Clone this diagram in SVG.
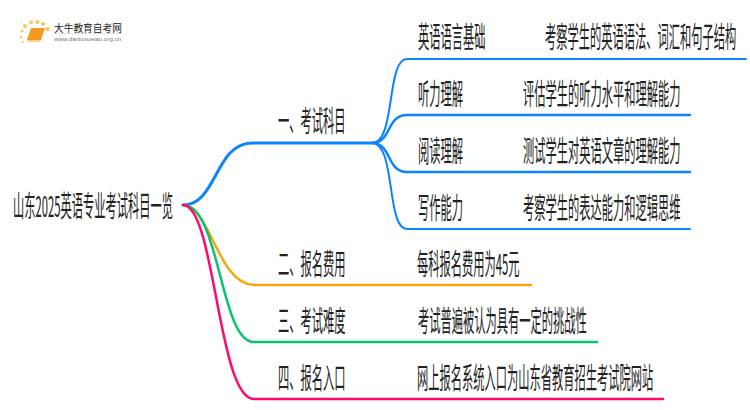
<svg xmlns="http://www.w3.org/2000/svg" width="750" height="410" viewBox="0 0 750 410">
<style>
text{font-family:"Noto Sans CJK SC","Liberation Sans",sans-serif;fill:#222;font-size:29px}
.c{fill:none;stroke-linecap:round}
.b{stroke:#0a84ff}
</style>
<rect width="750" height="410" fill="#fff"/>
<g id="logo">
<g fill="#fbc65a"><circle cx="25" cy="26" r="2"/><circle cx="31" cy="22.500" r="2"/><circle cx="37.500" cy="22" r="2"/><circle cx="43" cy="24" r="2"/><circle cx="47.500" cy="29" r="2.200"/><circle cx="22" cy="31" r="1.500"/><circle cx="21" cy="37" r="1.200"/><circle cx="23" cy="42" r="1"/></g>
<path d="M31 28H45L41 40H27Z" fill="#f39a1f"/>
<path d="M27 40H41L40 42H28Z" fill="#fbd08a"/>
<path d="M54 33.500H122" stroke="#ddd" stroke-width="0.800"/>
<text transform="translate(54 32) scale(.97 1)" style="font-size:10px">大牛教育自考网</text>
<text x="54" y="41" style="font-size:6.200px;fill:#777;font-family:'Liberation Sans',sans-serif">www.daniuxueiao.org.cn</text>
</g>
<g id="connectors">
<path class="c b" stroke-width="3" d="M183 205C217 205 215 143 252 143H372"/>
<path class="c b" stroke-width="2" d="M372 143C396 143 386 59 407 59H746"/>
<path class="c b" stroke-width="2.500" d="M372 143C392 143 386 115 407 115H690"/>
<path class="c b" stroke-width="2.500" d="M372 143C392 143 386 172 407 172H690"/>
<path class="c b" stroke-width="2" d="M372 143C396 143 386 229 407 229H690"/>
<path class="c" stroke="#f5a60a" stroke-width="2.500" d="M183 205C210 205 218 285 254 285H531"/>
<path class="c" stroke="#0cc26e" stroke-width="2.500" d="M183 205C220 205 220 342 254 342H597"/>
<path class="c" stroke="#ff0a6c" stroke-width="2.500" d="M183 205C215 205 218 399 254 399H663"/>
</g>
<g id="root"><text transform="translate(13 217) scale(.388 1)">山东2025英语专业考试科目一览</text></g>
<g id="n1"><text transform="translate(278 132) scale(.388 1)">一、考试科目</text></g>
<g id="n2"><text transform="translate(278 275) scale(.388 1)">二、报名费用</text></g>
<g id="n3"><text transform="translate(278 332) scale(.388 1)">三、考试难度</text></g>
<g id="n4"><text transform="translate(278 389) scale(.388 1)">四、报名入口</text></g>
<g id="a1"><text transform="translate(418 48) scale(.388 1)">英语语言基础</text><text transform="translate(545 48) scale(.388 1)">考察学生的英语语法、词汇和句子结构</text></g>
<g id="a2"><text transform="translate(418 105) scale(.388 1)">听力理解</text><text transform="translate(523 105) scale(.388 1)">评估学生的听力水平和理解能力</text></g>
<g id="a3"><text transform="translate(418 162) scale(.388 1)">阅读理解</text><text transform="translate(523 162) scale(.388 1)">测试学生对英语文章的理解能力</text></g>
<g id="a4"><text transform="translate(418 219) scale(.388 1)">写作能力</text><text transform="translate(523 219) scale(.388 1)">考察学生的表达能力和逻辑思维</text></g>
<g id="b1"><text transform="translate(417 275) scale(.388 1)">每科报名费用为45元</text></g>
<g id="b2"><text transform="translate(418 332) scale(.388 1)">考试普遍被认为具有一定的挑战性</text></g>
<g id="b3"><text transform="translate(417 389) scale(.388 1)">网上报名系统入口为山东省教育招生考试院网站</text></g>
</svg>
